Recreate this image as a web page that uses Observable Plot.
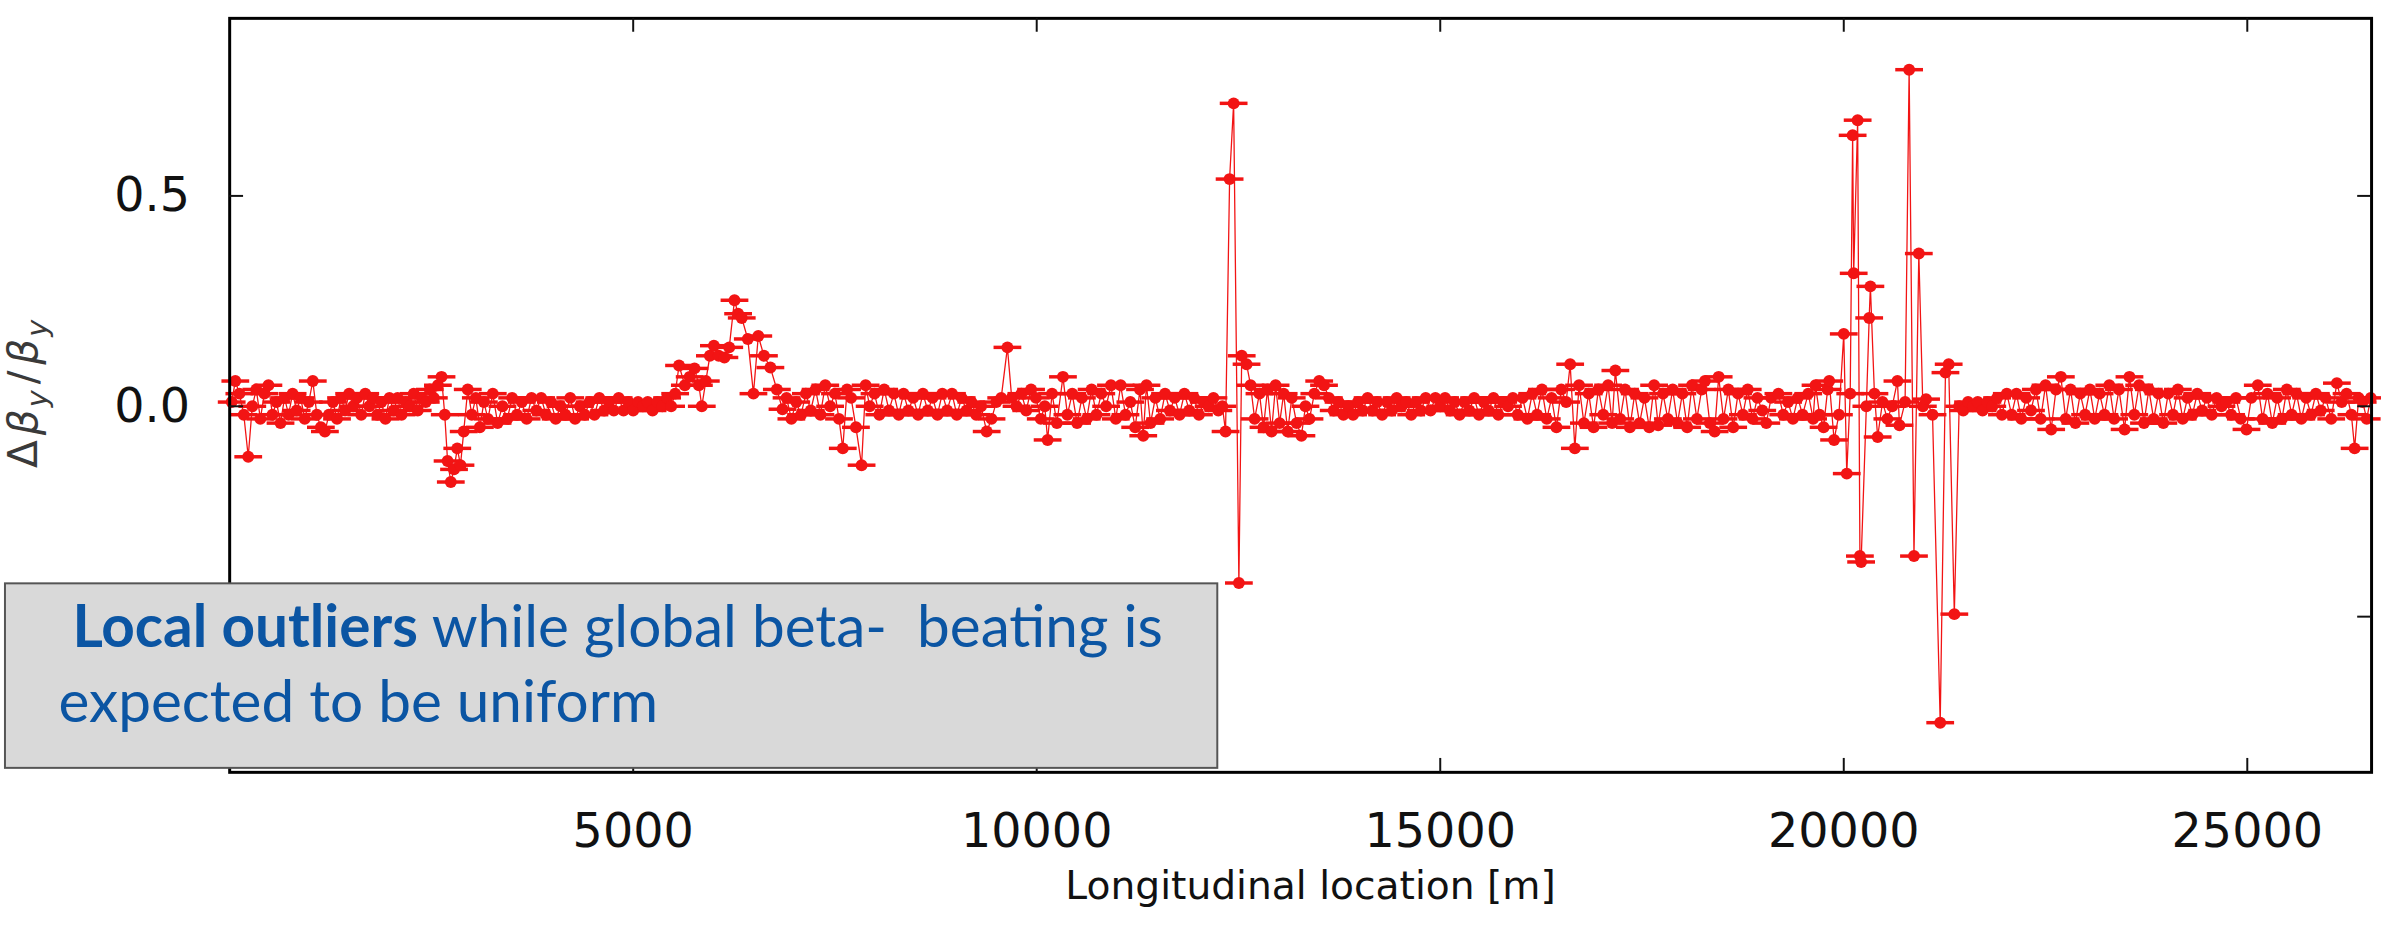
<!DOCTYPE html>
<html>
<head>
<meta charset="utf-8">
<script src="https://cdn.jsdelivr.net/npm/d3@7"></script>
<script src="https://cdn.jsdelivr.net/npm/@observablehq/plot@0.6"></script>
<style>
  html, body { margin: 0; padding: 0; background: #fff; overflow: hidden; }
  #chart svg { display: block; }
</style>
</head>
<body>
<div id="chart"></div>
<script>
// Vertical beta-beating Δβy/βy at each BPM: [longitudinal position (m), value]
const arc0to3km = [
  [25,0.01],[70,0.06],[120,0.03],[175,-0.02],[230,-0.12],[280,0.00],[330,0.04],[380,-0.03],
  [430,0.03],[480,0.05],[530,-0.02],[580,0.01],[630,-0.04],[680,0.02],[730,-0.02],[780,0.03],
  [830,-0.01],[880,0.02],[930,-0.03],[980,0.01],[1030,0.06],[1080,-0.02],[1130,-0.05],[1180,-0.06],
  [1230,-0.02],[1280,0.01],[1330,-0.03],[1380,0.02],[1430,-0.01],[1480,0.03],[1530,0.00],[1580,0.02],
  [1630,-0.02],[1680,0.03],[1730,0.00],[1780,0.02],[1830,-0.02],[1880,0.01],[1930,-0.03],[1980,0.02],
  [2030,-0.01],[2080,0.02],[2130,-0.02],[2180,0.01],[2230,0.00],[2280,0.03],[2330,-0.01],[2380,0.02],
  [2430,0.01],[2480,0.04],[2530,0.02],[2580,0.05],[2625,0.07],[2665,-0.02],[2700,-0.13],[2740,-0.18],
  [2780,-0.15],[2820,-0.10],[2860,-0.14],[2900,-0.06],[2950,0.04],[3000,-0.02],[3050,0.02]
];
const arc3to5km = [
  [3100,-0.05],[3150,0.01],[3200,-0.03],[3260,0.03],[3320,-0.04],[3380,0.00],[3440,-0.03],[3500,0.02],
  [3560,-0.02],[3620,0.01],[3680,-0.03],[3740,0.02],[3800,-0.01],[3860,0.02],[3920,-0.02],[3980,0.01],
  [4040,-0.03],[4100,0.00],[4160,-0.02],[4220,0.02],[4280,-0.03],[4340,0.00],[4400,-0.02],[4460,0.01],
  [4520,-0.02],[4580,0.02],[4640,-0.01],[4700,0.01],[4760,-0.01],[4820,0.02],[4880,-0.01],[4940,0.01],
  [5000,-0.01],[5060,0.01],[5120,0.00],[5180,0.01],[5240,-0.01],[5300,0.01],[5360,0.00],[5420,0.02],
  [5470,0.00]
];
const bump5to7km = [
  [5520,0.03],[5568,0.097],[5640,0.05],[5700,0.07],[5760,0.09],[5814,0.05],[5850,0.00],[5900,0.06],
  [5950,0.12],[6000,0.144],[6060,0.12],[6130,0.116],[6190,0.14],[6255,0.252],[6300,0.22],[6345,0.21],
  [6420,0.16],[6490,0.03],[6550,0.167],[6620,0.12],[6700,0.092],[6780,0.04],[6850,-0.007]
];
const arc7to12km = [
  [6900,0.02],[6960,-0.03],[7020,0.01],[7080,-0.02],[7140,0.03],[7200,-0.01],[7260,0.04],[7320,-0.02],
  [7380,0.05],[7440,0.00],[7500,0.03],[7550,-0.03],[7597,-0.10],[7650,0.04],[7700,0.02],[7760,-0.05],
  [7830,-0.14],[7880,0.05],[7930,0.00],[7990,0.03],[8050,-0.02],[8110,0.04],[8170,-0.01],[8230,0.03],
  [8290,-0.02],[8350,0.03],[8410,-0.01],[8470,0.02],[8530,-0.02],[8590,0.03],[8650,-0.01],[8710,0.02],
  [8770,-0.02],[8830,0.03],[8890,-0.01],[8950,0.03],[9010,-0.02],[9070,0.02],[9130,-0.01],[9190,0.01],
  [9250,-0.02],[9310,0.00],[9380,-0.06],[9440,-0.03],[9500,0.01],[9560,0.02],[9637,0.14],[9690,0.02],
  [9750,0.00],[9810,0.03],[9870,-0.01],[9930,0.04],[9990,0.02],[10050,-0.03],[10100,0.00],[10135,-0.08],
  [10190,0.03],[10250,-0.04],[10325,0.07],[10380,-0.02],[10440,0.03],[10500,-0.04],[10560,0.02],[10620,-0.03],
  [10680,0.04],[10740,-0.02],[10800,0.03],[10860,0.00],[10920,0.05],[10980,-0.03],[11040,0.05],[11100,-0.02],
  [11160,0.01],[11220,-0.05],[11280,0.04],[11320,-0.07],[11360,0.05],[11410,-0.04],[11470,0.02],[11530,-0.03],
  [11590,0.03],[11650,-0.01],[11710,0.02],[11770,-0.02],[11830,0.03],[11890,-0.01],[11950,0.02],[12010,-0.02],
  [12070,0.01],[12130,0.00],[12190,0.02],[12250,-0.01],[12300,0.00],[12340,-0.06]
];
const outliers12km = [
  [12390,0.54],[12440,0.72],[12505,-0.42],[12540,0.12],[12600,0.10],[12650,0.05],[12700,-0.03],[12760,0.03],
  [12810,-0.05],[12860,0.04],[12910,-0.06],[12960,0.05],[13010,-0.04],[13060,0.03],[13110,-0.06],[13160,0.02],
  [13220,-0.04],[13280,-0.07],[13330,0.00],[13380,-0.03],[13440,0.03],[13500,0.06],[13560,0.05],[13620,0.02],
  [13680,-0.01]
];
const arc14to16km = [
  [13740,0.01],[13800,-0.02],[13860,0.00],[13920,-0.02],[13980,0.01],[14040,-0.01],[14100,0.02],[14160,-0.01],
  [14220,0.01],[14280,-0.02],[14340,0.01],[14400,-0.01],[14460,0.02],[14520,0.00],[14580,0.01],[14640,-0.02],
  [14700,0.01],[14760,-0.01],[14820,0.02],[14880,-0.01],[14940,0.02],[15000,0.00],[15060,0.02],[15120,-0.01],
  [15180,0.01],[15240,-0.02],[15300,0.01],[15360,-0.01],[15420,0.02],[15480,-0.02],[15540,0.01],[15600,-0.01],
  [15660,0.02],[15720,-0.02],[15780,0.01],[15840,0.00],[15900,0.02],[15960,-0.02]
];
const arc16to20km = [
  [16020,0.02],[16080,-0.03],[16140,0.03],[16200,-0.02],[16260,0.04],[16320,-0.03],[16380,0.02],[16440,-0.05],
  [16500,0.04],[16560,0.01],[16610,0.10],[16668,-0.10],[16720,0.05],[16780,-0.04],[16840,0.03],[16900,-0.05],
  [16960,0.04],[17020,-0.02],[17080,0.05],[17130,-0.04],[17170,0.085],[17230,-0.03],[17290,0.04],[17350,-0.05],
  [17410,0.03],[17470,-0.04],[17530,0.02],[17590,-0.05],[17650,0.05],[17700,-0.045],[17760,0.03],[17820,-0.03],
  [17880,0.04],[17940,-0.04],[18000,0.03],[18060,-0.05],[18120,0.05],[18180,-0.03],[18240,0.04],[18280,0.06],
  [18340,-0.04],[18400,-0.06],[18450,0.07],[18510,-0.03],[18570,0.04],[18630,-0.05],[18690,0.03],[18750,-0.02],
  [18810,0.04],[18870,-0.03],[18930,0.02],[18990,-0.01],[19040,-0.04],[19100,0.02],[19190,0.03],[19250,-0.02],
  [19310,0.01],[19370,-0.03],[19430,0.02],[19490,-0.02],[19560,0.03],[19620,-0.03],[19650,0.05],[19700,-0.02],
  [19750,-0.05],[19800,0.04],[19820,0.06],[19880,-0.08],[19940,-0.02]
];
const outliers20km = [
  [20000,0.172],[20037,-0.16],[20080,0.03],[20110,0.644],[20123,0.316],[20172,0.68],[20200,-0.356],[20215,-0.37],
  [20280,0.00],[20315,0.21],[20330,0.285],[20380,0.03],[20420,-0.073],[20480,0.01],[20540,-0.03],[20600,0.00],
  [20665,0.06],[20690,-0.045],[20760,0.01],[20810,0.80],[20870,-0.356],[20930,0.363],[20980,0.00],[21020,0.017],
  [21100,-0.02],[21195,-0.752],[21260,0.08],[21300,0.10],[21370,-0.494],[21430,0.00]
];
const arc21to27km = [
  [21480,-0.01],[21540,0.01],[21600,0.00],[21660,0.01],[21720,-0.01],[21780,0.01],[21840,0.00],[21900,0.02],
  [21960,-0.02],[22020,0.03],[22080,-0.02],[22140,0.03],[22200,-0.03],[22260,0.02],[22320,-0.01],[22380,0.04],
  [22440,-0.03],[22500,0.05],[22570,-0.055],[22630,0.04],[22690,0.07],[22750,-0.03],[22810,0.04],[22870,-0.04],
  [22930,0.03],[22990,-0.02],[23050,0.04],[23110,-0.03],[23170,0.03],[23230,-0.02],[23290,0.05],[23350,-0.03],
  [23410,0.04],[23480,-0.055],[23540,0.07],[23600,-0.02],[23660,0.05],[23720,-0.04],[23780,0.04],[23840,-0.03],
  [23900,0.03],[23960,-0.04],[24020,0.03],[24080,-0.02],[24140,0.04],[24200,-0.03],[24260,0.02],[24320,-0.02],
  [24380,0.03],[24440,-0.01],[24500,0.02],[24560,-0.02],[24620,0.02],[24680,0.00],[24740,0.01],[24800,-0.02],
  [24860,0.02],[24920,-0.03],[24990,-0.055],[25050,0.02],[25130,0.05],[25190,-0.03],[25250,0.03],[25310,-0.04],
  [25370,0.02],[25430,-0.03],[25490,0.04],[25550,-0.02],[25610,0.03],[25670,-0.03],[25730,0.02],[25790,-0.02],
  [25850,0.03],[25910,-0.01],[25970,0.02],[26040,-0.03],[26110,0.055],[26170,0.01],[26230,0.03],[26290,-0.02],
  [26330,-0.10],[26380,0.02],[26430,0.01],[26480,-0.03],[26530,0.02]
];

const xTicks = [5000, 10000, 15000, 20000, 25000];
const yTicks = [-0.5, 0, 0.5];
const yTickLabels = [0, 0.5];   // the -0.5 label sits under the note box
const xLabel = "Longitudinal location [m]";
const noteBold = "Local outliers";
const noteLine1 = " while global beta-  beating is";
const noteLine2 = "expected to be uniform";

const points = [
  ...arc0to3km, ...arc3to5km, ...bump5to7km, ...arc7to12km, ...outliers12km,
  ...arc14to16km, ...arc16to20km, ...outliers20km, ...arc21to27km
].map(([s, v]) => ({s, v}));

const red = "#f21414";
// horizontal error-bar cap drawn as a custom dot symbol (half-width = r)
const capBar = {
  draw(ctx, size) {
    const r = Math.sqrt(size / Math.PI);
    ctx.moveTo(-r, 0); ctx.lineTo(r, 0);
  }
};

const W = 2400, H = 931;
const mL = 231, mR = 10, mT = 18, mB = 153;
const frameW = W - mL - mR, frameH = H - mT - mB;
const tickLen = 14;

const plot = Plot.plot({
  width: W, height: H,
  marginLeft: mL, marginRight: mR, marginTop: mT, marginBottom: mB,
  style: {fontFamily: "DejaVu Sans", fontSize: "48px", color: "#111", background: "white", overflow: "visible"},
  x: {domain: [0, 26540]},
  y: {domain: [-0.87, 0.922]},
  marks: [
    Plot.line(points, {x: "s", y: "v", stroke: red, strokeWidth: 1.3}),
    Plot.dot(points, {x: "s", y: "v", r: 14, symbol: capBar, fill: "none", stroke: red, strokeWidth: 3.5}),
    Plot.dot(points, {x: "s", y: "v", r: 6, fill: red, stroke: "none"}),
    Plot.frame({stroke: "#000", strokeWidth: 3}),
    Plot.ruleX(xTicks, {insetTop: frameH - tickLen, stroke: "#111", strokeWidth: 2}),
    Plot.ruleX(xTicks, {insetBottom: frameH - tickLen, stroke: "#111", strokeWidth: 2}),
    Plot.ruleY(yTicks, {insetRight: frameW - tickLen, stroke: "#111", strokeWidth: 2}),
    Plot.ruleY(yTicks, {insetLeft: frameW - tickLen, stroke: "#111", strokeWidth: 2}),
    Plot.axisX(xTicks, {anchor: "bottom", tickSize: 0, tickPadding: 41, tickFormat: d => String(d), label: null}),
    Plot.axisY(yTickLabels, {anchor: "left", tickSize: 0, tickPadding: 40, tickFormat: d => d.toFixed(1), label: null}),
    Plot.text([xLabel], {frameAnchor: "bottom", dy: 128, dx: 10, fontSize: 39.5, text: d => d, fill: "#111"})
  ]
});

document.getElementById("chart").append(plot);
const svg = d3.select(plot);

// y-axis title Δβy/βy with subscripts
const yl = svg.append("text")
  .attr("transform", "translate(37,397) rotate(-90)")
  .attr("text-anchor", "middle")
  .attr("font-family", "DejaVu Sans")
  .attr("font-size", 41)
  .attr("fill", "#3a3a3a");
yl.append("tspan").text("Δ");
yl.append("tspan").attr("font-style", "italic").attr("dx", 5).text("β");
yl.append("tspan").attr("font-style", "italic").attr("font-size", 29).attr("dy", 10).attr("dx", 2).text("y");
yl.append("tspan").attr("dy", -10).attr("dx", 6).text("/");
yl.append("tspan").attr("font-style", "italic").attr("dx", 6).text("β");
yl.append("tspan").attr("font-style", "italic").attr("font-size", 29).attr("dy", 10).attr("dx", 2).text("y");

// annotation box
const note = svg.append("g").attr("text-anchor", "start");
note.append("rect")
  .attr("x", 5).attr("y", 588).attr("width", 1222).attr("height", 186)
  .attr("fill", "#d9d9d9").attr("stroke", "#555").attr("stroke-width", 2);
const noteFont = "Lato, 'Open Sans', sans-serif";
const t1 = note.append("text")
  .attr("x", 73).attr("y", 652)
  .attr("text-anchor", "start")
  .attr("font-family", noteFont).attr("font-size", 60)
  .attr("fill", "#0b55a3").style("white-space", "pre");
t1.append("tspan").attr("font-weight", "bold").text(noteBold);
t1.append("tspan").text(noteLine1);
const len = t1.node().getComputedTextLength();
const fs = 60 * 1099 / len;
t1.attr("font-size", fs);
note.append("text")
  .attr("x", 59).attr("y", 728)
  .attr("text-anchor", "start")
  .attr("font-family", noteFont).attr("font-size", fs)
  .attr("fill", "#0b55a3").style("white-space", "pre")
  .text(noteLine2);
</script>
</body>
</html>
